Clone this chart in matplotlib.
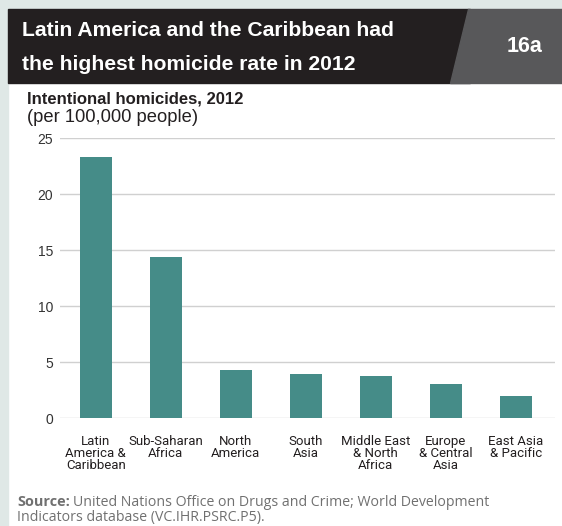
import matplotlib.pyplot as plt
from matplotlib.patches import Rectangle, Polygon

regions = ['Latin\nAmerica &\nCaribbean', 'Sub-Saharan\nAfrica', 'North\nAmerica',
           'South\nAsia', 'Middle East\n& North\nAfrica', 'Europe\n& Central\nAsia',
           'East Asia\n& Pacific']
homicides = [23.3, 14.4, 4.3, 3.95, 3.75, 3.05, 1.96]
yticks = [0, 5, 10, 15, 20, 25]

W, H = 562, 526
fig = plt.figure(figsize=(W / 100, H / 100), dpi=100)
fig.patch.set_facecolor('white')

def px(x, y):
    return x / W, 1 - y / H

# background frame
fig.add_artist(Rectangle((0, 0), 8 / W, 1, transform=fig.transFigure, color='#dfe8e6', zorder=0))
fig.add_artist(Rectangle((0, 1 - 9 / H), 1, 9 / H, transform=fig.transFigure, color='#dfe8e6', zorder=0))
# title bar
fig.add_artist(Rectangle(px(8, 83), (470 - 8) / W, 74 / H, transform=fig.transFigure,
                         color='#231f20', zorder=1))
fig.add_artist(Polygon([px(468, 9), px(562, 9), px(562, 83), px(450, 83)], closed=True,
                       transform=fig.transFigure, color='#58585a', zorder=2))

title_font = 'Liberation Sans'
fig.text(*px(22, 31), 'Latin America and the Caribbean had', color='white', fontsize=15.2,
         fontweight='bold', family=title_font, va='center', ha='left', zorder=3)
fig.text(*px(22, 64), 'the highest homicide rate in 2012', color='white', fontsize=15.2,
         fontweight='bold', family=title_font, va='center', ha='left', zorder=3)
fig.text(*px(525, 47), '16a', color='white', fontsize=15.5, fontweight='bold',
         family=title_font, va='center', ha='center', zorder=3)

fig.text(*px(27, 99), 'Intentional homicides, 2012', color='#231f20', fontsize=12,
         fontweight='bold', family='Liberation Sans', va='center', ha='left')
fig.text(*px(27, 117), '(per 100,000 people)', color='#231f20', fontsize=13.2,
         family='Liberation Sans', va='center', ha='left')

ax = fig.add_axes([60 / W, 1 - 418 / H, (555 - 60) / W, (418 - 138) / H])
x = list(range(len(regions)))
ax.bar(x, homicides, width=0.46, color='#458c88', zorder=3)
ax.set_xlim(-0.51, 6.56)
ax.set_ylim(0, 25)
ax.set_yticks(yticks)
ax.set_xticks(x)
ax.set_xticklabels(regions, family='Roboto', fontsize=9.5,
                   color='#231f20', linespacing=0.9, va='top')
for lab in ax.get_yticklabels():
    lab.set_family('Liberation Sans')
    lab.set_fontsize(10)
    lab.set_color('#333333')
ax.tick_params(axis='both', length=0)
ax.tick_params(axis='x', pad=12)
ax.tick_params(axis='y', pad=5)
ax.grid(axis='y', color='#d0d0d0', linewidth=1, zorder=0)
ax.set_axisbelow(True)
for s in ax.spines.values():
    s.set_visible(False)
ax.set_facecolor('none')

fig.text(*px(17, 502), 'Source:', color='#707070', fontsize=10.4, fontweight='bold',
         family='Open Sans', va='center', ha='left')
fig.text(*px(73, 502), 'United Nations Office on Drugs and Crime; World Development',
         color='#707070', fontsize=10.2, family='Open Sans', va='center', ha='left')
fig.text(*px(17, 518), 'Indicators database (VC.IHR.PSRC.P5).',
         color='#707070', fontsize=10.2, family='Open Sans', va='center', ha='left')

fig.savefig('out.png', dpi=100)
